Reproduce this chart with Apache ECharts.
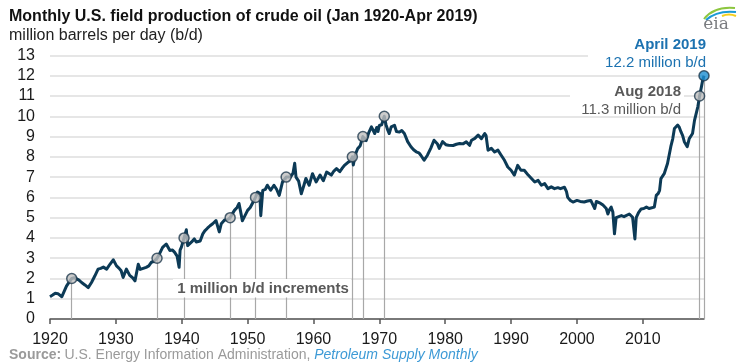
<!DOCTYPE html>
<html><head><meta charset="utf-8">
<script src="https://cdn.jsdelivr.net/npm/echarts@6/dist/echarts.min.js"></script>
<style>html,body{margin:0;padding:0;background:#fff}#c{width:744px;height:364px}</style>
</head><body><div id="c"></div>
<script>
// ---- data ----
const years = [1920.0,1920.4,1920.8,1921.2,1921.5,1921.8,1922.2,1922.5,1922.9,1923.3,1923.7,1924.0,1924.4,1924.8,1925.3,1925.8,1926.3,1926.8,1927.3,1927.7,1928.1,1928.6,1929.1,1929.6,1930.1,1930.5,1930.8,1931.1,1931.4,1931.6,1932.1,1932.5,1932.9,1933.4,1933.7,1934.0,1934.6,1935.0,1935.4,1935.8,1936.25,1936.6,1937.1,1937.65,1938.2,1938.6,1938.9,1939.3,1939.5,1939.6,1939.75,1939.95,1940.35,1940.7,1940.9,1941.2,1941.5,1941.9,1942.2,1942.5,1942.8,1943.2,1943.5,1943.9,1944.3,1944.7,1945.2,1945.7,1946.0,1946.5,1946.9,1947.35,1947.7,1948.0,1948.4,1948.7,1949.0,1949.2,1949.6,1950.0,1950.4,1950.8,1951.2,1951.5,1951.85,1952.0,1952.3,1952.7,1953.0,1953.5,1954.0,1954.4,1954.8,1955.3,1955.85,1956.1,1956.5,1956.9,1957.15,1957.35,1957.75,1958.15,1958.55,1958.85,1959.35,1959.85,1960.4,1961.0,1961.5,1962.0,1962.7,1963.1,1963.5,1964.0,1964.4,1964.7,1965.2,1965.6,1965.9,1966.05,1966.35,1966.7,1967.1,1967.5,1967.7,1968.0,1968.4,1968.8,1969.3,1969.6,1969.8,1970.0,1970.35,1970.75,1971.0,1971.3,1971.5,1971.8,1972.3,1972.6,1973.05,1973.4,1973.8,1974.3,1974.8,1975.2,1975.6,1976.0,1976.3,1976.8,1977.3,1977.8,1978.3,1978.8,1979.1,1979.6,1980.1,1980.5,1981.2,1981.7,1982.2,1982.7,1983.2,1983.7,1984.0,1984.5,1985.0,1985.5,1986.0,1986.2,1986.5,1987.0,1987.5,1988.0,1988.5,1989.0,1989.5,1990.0,1990.5,1991.0,1991.5,1992.0,1992.6,1993.1,1993.6,1994.1,1994.6,1995.1,1995.6,1996.1,1996.6,1997.1,1997.5,1998.1,1998.4,1998.6,1999.0,1999.4,2000.0,2000.5,2001.1,2001.6,2002.1,2002.7,2002.95,2003.25,2003.6,2003.95,2004.45,2004.7,2004.95,2005.2,2005.45,2005.62,2005.7,2005.95,2006.35,2006.75,2007.15,2007.45,2007.95,2008.45,2008.7,2008.8,2009.0,2009.35,2009.75,2010.15,2010.55,2010.95,2011.25,2011.75,2012.05,2012.35,2012.55,2012.75,2013.25,2013.75,2014.25,2014.55,2014.8,2015.3,2015.55,2015.8,2016.05,2016.3,2016.75,2017.05,2017.55,2017.85,2018.35,2018.5,2018.62,2018.9,2019.1,2019.29];
const production = [1.10,1.18,1.27,1.25,1.20,1.10,1.40,1.62,1.82,2.00,2.04,1.96,1.92,1.80,1.68,1.55,1.80,2.12,2.46,2.50,2.56,2.46,2.70,2.92,2.62,2.50,2.38,2.05,2.30,2.46,2.15,2.05,1.88,2.70,2.45,2.38,2.55,2.62,2.80,2.85,3.00,3.20,3.53,3.70,3.38,3.40,3.30,3.10,3.05,2.55,3.40,3.55,4.00,4.40,3.62,3.70,3.80,3.95,3.80,3.75,3.85,4.20,4.35,4.48,4.60,4.70,4.86,4.30,4.70,4.88,4.90,5.00,5.20,5.36,5.50,5.70,5.20,4.85,5.10,5.36,5.50,5.75,6.00,6.26,6.20,5.10,6.35,6.40,6.60,6.35,6.60,6.40,6.10,6.76,7.00,7.05,7.00,7.20,7.68,7.00,6.80,6.18,6.60,6.93,6.60,7.17,6.76,7.10,6.82,7.25,7.10,7.30,7.42,7.27,7.45,7.58,7.72,7.80,8.00,7.60,8.10,8.40,8.55,9.00,8.95,8.80,9.20,9.48,9.15,9.45,9.25,9.55,9.58,10.00,9.60,9.30,9.15,9.48,9.56,9.25,9.22,9.30,9.15,8.75,8.50,8.35,8.25,8.20,8.08,7.83,8.08,8.42,8.82,8.65,8.42,8.75,8.60,8.57,8.56,8.62,8.66,8.64,8.74,8.57,8.82,8.91,9.07,8.90,9.15,9.05,8.33,8.42,8.24,8.33,8.08,7.83,7.50,7.34,7.10,7.58,7.34,7.34,7.10,6.93,6.76,6.84,6.60,6.68,6.43,6.52,6.43,6.48,6.43,6.50,6.30,6.00,5.85,5.77,5.85,5.80,5.77,5.82,5.85,5.45,5.80,5.77,5.70,5.62,5.45,5.18,5.40,5.52,5.28,5.20,4.20,5.00,5.05,5.10,5.05,5.00,5.18,5.02,5.00,3.95,5.00,5.25,5.43,5.45,5.52,5.45,5.44,5.52,6.10,6.20,6.35,6.93,7.17,7.67,8.50,8.90,9.40,9.57,9.45,9.23,9.05,8.75,8.50,8.90,9.15,9.80,10.47,10.75,11.00,11.45,11.80,12.00];
// 1 million b/d increment markers, then Aug 2018 and April 2019
const markerYears = [1923.3,1936.25,1940.35,1947.35,1951.2,1955.85,1965.9,1967.5,1970.75,2018.62,2019.29];
const markerValues = [2,3,4,5,6,7,8,9,10,11,12];
const xTickLabels = [1920,1930,1940,1950,1960,1970,1980,1990,2000,2010];
const yMin = 0, yMax = 13, yStep = 1;
const xMin = 1920, xMax = 2019.29;

const FONT = '"Liberation Sans", Arial, sans-serif';
const lineData = years.map((y, i) => [y, production[i]]);
const markerData = markerYears.map((y, i) => ({
  value: [y, markerValues[i]],
  itemStyle: { color: i === markerYears.length - 1 ? '#1b8fd2' : '#bfbfbf' }
}));
const dropLines = markerYears.map((y, i) => [{ coord: [y, markerValues[i]] }, { coord: [y, 0] }]);

const chart = echarts.init(document.getElementById('c'), null, { renderer: 'canvas' });
chart.setOption({
  animation: false,
  backgroundColor: '#fff',
  title: {
    text: 'Monthly U.S. field production of crude oil (Jan 1920-Apr 2019)',
    subtext: 'million barrels per day (b/d)',
    left: 9, top: 9, itemGap: 3, padding: 0,
    textStyle: { fontFamily: FONT, fontSize: 16, fontWeight: 'bold', color: '#111' },
    subtextStyle: { fontFamily: FONT, fontSize: 16, color: '#222' }
  },
  grid: { left: 50, right: 40, top: 55.5, bottom: 45, containLabel: false },
  xAxis: {
    type: 'value', min: xMin, max: xMax, interval: 10,
    axisLine: { show: true, lineStyle: { color: '#555', width: 1.5 } },
    axisTick: { show: true, length: 5, customValues: xTickLabels, lineStyle: { color: '#555', width: 1.5 } },
    axisLabel: { customValues: xTickLabels, margin: 13, fontFamily: FONT, fontSize: 16, color: '#1a1a1a', formatter: v => String(v) },
    splitLine: { show: false }
  },
  yAxis: {
    type: 'value', min: yMin, max: yMax, interval: yStep,
    axisLine: { show: false }, axisTick: { show: false },
    axisLabel: { margin: 15, fontFamily: FONT, fontSize: 16, color: '#1a1a1a' },
    splitLine: { show: true, lineStyle: { color: '#dedede', width: 1.5 } }
  },
  series: [
    {
      type: 'scatter', z: 1, symbolSize: 0, data: [], silent: true,
      markLine: {
        z: 1, silent: true, symbol: ['none', 'none'], animation: false,
        label: { show: false },
        lineStyle: { color: '#a8a8a8', width: 1.2, type: 'solid' },
        emphasis: { disabled: true },
        data: dropLines
      }
    },
    {
      type: 'line', z: 3, data: lineData, showSymbol: false, symbol: 'none',
      lineStyle: { color: '#0c3a56', width: 3, join: 'round' }, silent: true
    },
    {
      type: 'scatter', z: 4, data: markerData, symbol: 'circle', symbolSize: 10,
      itemStyle: { borderColor: '#1f3a4d', borderWidth: 1.5 }, silent: true
    }
  ],
  graphic: [
    { type: 'rect', z: 2, silent: true, shape: { x: 173, y: 279, width: 178, height: 18.5 }, style: { fill: '#fff' } },
    { type: 'text', z: 10, x: 263, y: 288.5, style: { text: '1 million b/d increments', font: 'bold 15px ' + FONT, fill: '#595959', align: 'center', verticalAlign: 'middle' } },
    { type: 'rect', z: 2, silent: true, shape: { x: 588, y: 35, width: 120, height: 35 }, style: { fill: '#fff' } },
    { type: 'rect', z: 2, silent: true, shape: { x: 570, y: 82, width: 114, height: 33 }, style: { fill: '#fff' } },
    { type: 'text', z: 10, x: 706, y: 45, style: { text: 'April 2019', font: 'bold 15px ' + FONT, fill: '#1c72b0', align: 'right', verticalAlign: 'middle' } },
    { type: 'text', z: 10, x: 706, y: 63, style: { text: '12.2 million b/d', font: '15px ' + FONT, fill: '#1c72b0', align: 'right', verticalAlign: 'middle' } },
    { type: 'text', z: 10, x: 681, y: 92, style: { text: 'Aug 2018', font: 'bold 15px ' + FONT, fill: '#595959', align: 'right', verticalAlign: 'middle' } },
    { type: 'text', z: 10, x: 681, y: 109.5, style: { text: '11.3 million b/d', font: '15px ' + FONT, fill: '#595959', align: 'right', verticalAlign: 'middle' } },
    { type: 'text', z: 10, x: 9, y: 355, style: {
        text: '{b|Source:} {n|U.S. Energy Information Administration, }{i|Petroleum Supply Monthly}',
        verticalAlign: 'middle', align: 'left',
        rich: {
          b: { font: 'bold 14px ' + FONT, fill: '#9a9a9a' },
          n: { font: '14px ' + FONT, fill: '#9a9a9a' },
          i: { font: 'italic 14px ' + FONT, fill: '#3d9ad6' }
        }
    } },
    // eia logo
    { type: 'bezierCurve', z: 10, shape: { x1: 704, y1: 19, x2: 735, y2: 8, cpx1: 714, cpy1: 6 }, style: { stroke: '#8cc63f', lineWidth: 2, fill: null } },
    { type: 'bezierCurve', z: 10, shape: { x1: 706, y1: 20, x2: 736, y2: 12, cpx1: 717, cpy1: 10 }, style: { stroke: '#1a9ad6', lineWidth: 2, fill: null } },
    { type: 'bezierCurve', z: 10, shape: { x1: 722, y1: 16, x2: 736, y2: 16, cpx1: 729, cpy1: 13 }, style: { stroke: '#f5cf1b', lineWidth: 2, fill: null } },
    { type: 'text', z: 10, x: 716, y: 25, style: { text: 'eia', font: '17px "DejaVu Serif", serif', fill: '#7a7c80', align: 'center', verticalAlign: 'middle' } }
  ]
});
</script>
</body></html>
